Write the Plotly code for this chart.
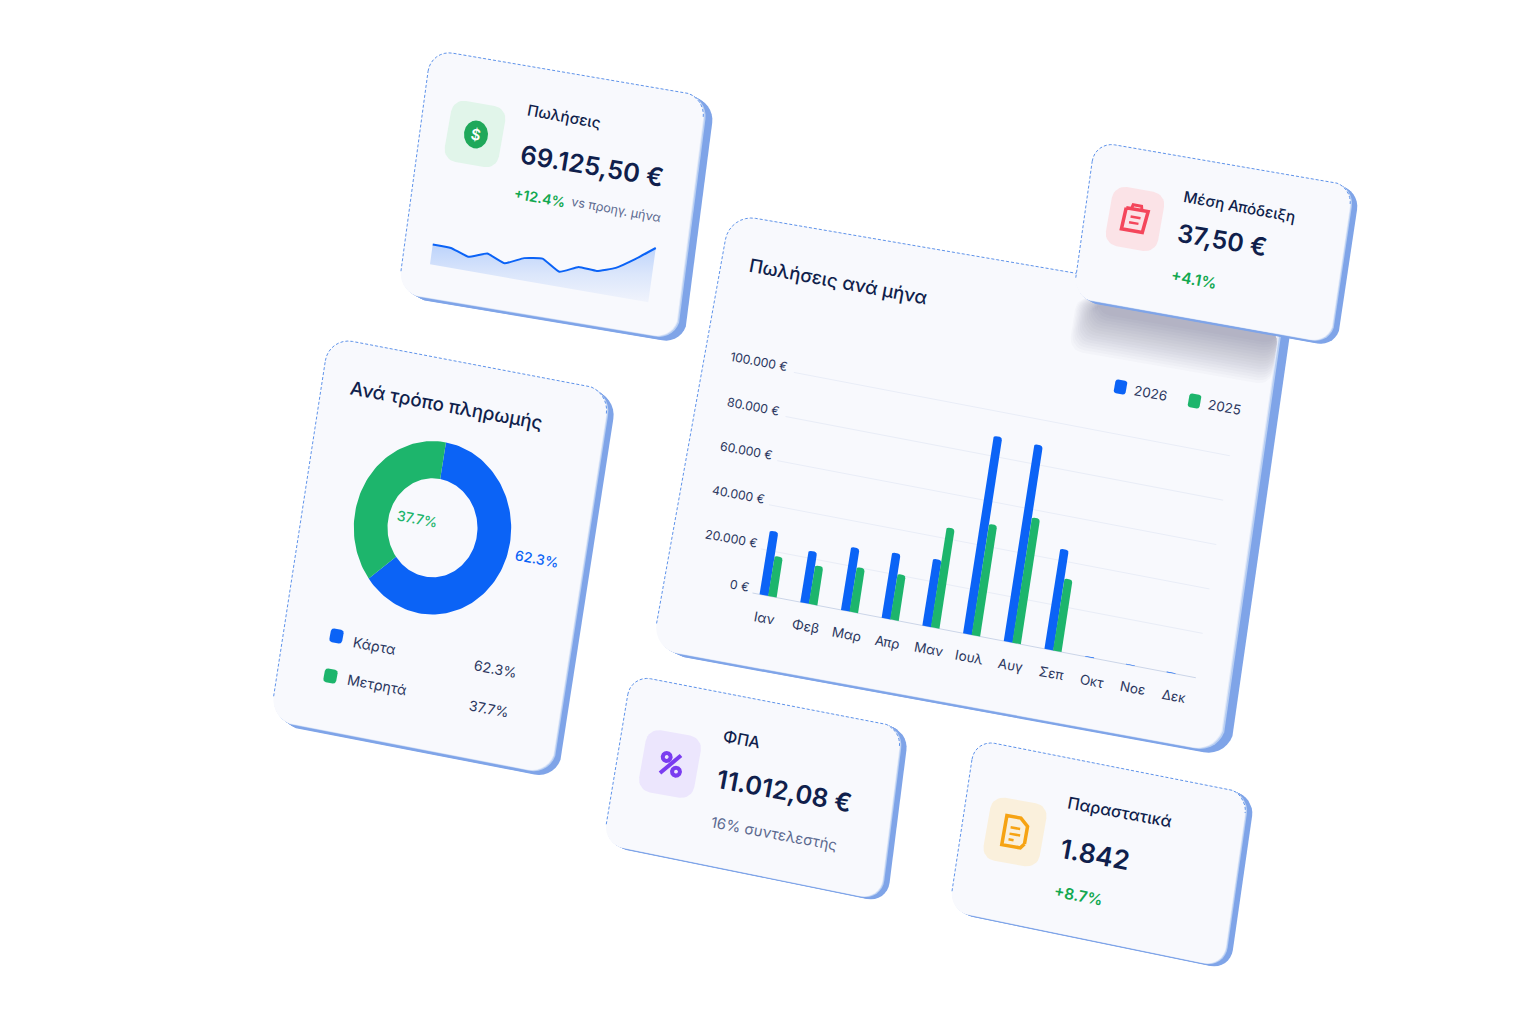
import math
import plotly.graph_objects as go

# chart data
MONTHS = ["Ιαν", "Φεβ", "Μαρ", "Απρ", "Μαν", "Ιουλ", "Αυγ", "Σεπ", "Οκτ", "Νοε", "Δεκ"]
SALES_2026 = [28800, 23300, 28400, 29500, 30200, 89000, 88700, 45200, 300, 300, 300]
SALES_2025 = [18100, 17400, 20100, 20500, 45000, 50100, 56500, 32500, 0, 0, 0]
Y_TICKS = [0, 20000, 40000, 60000, 80000, 100000]
Y_LABELS = ["0 €", "20.000 €", "40.000 €", "60.000 €", "80.000 €", "100.000 €"]
PAY_LABELS = ["Κάρτα", "Μετρητά"]
PAY_SHARES = [62.3, 37.7]
SPARK = [19.8, 19.5, 13.9, 20.2, 13.7, 22.0, 24.7, 14.7, 22.6, 21.9, 28.1, 40.3, 54.3]

BLUE = "#0b63f6"
GREEN = "#1db56c"
NAVY = "#101f4c"
INK = "#2b3760"
MUTED = "#5c6a90"
UP = "#12a850"
FACE = "#f8f9fd"
SIDE = "#7fa4e8"
FONT = "Inter"

fig = go.Figure()


def poly(xs, ys, color, opacity=1.0):
    fig.add_trace(go.Scatter(x=xs, y=ys, mode="lines", fill="toself", fillcolor=color,
                             line=dict(width=0), opacity=opacity, hoverinfo="skip", showlegend=False))


def stroke(xs, ys, color, width=1.0, dash=None, shape="linear", smoothing=None, opacity=1.0):
    fig.add_trace(go.Scatter(x=xs, y=ys, mode="lines", hoverinfo="skip", showlegend=False, opacity=opacity,
                             line=dict(color=color, width=width, dash=dash, shape=shape, smoothing=smoothing)))


def text(x, y, s, size, color=INK, angle=10.5, weight=400, anchor="center"):
    fig.add_annotation(x=x, y=y, text=s, showarrow=False, textangle=angle, xanchor=anchor, yanchor="middle",
                       font=dict(family=FONT, size=size, color=color, weight=weight))


def bilin(c, u, v):
    # c = top-left, top-right, bottom-right, bottom-left
    x = (1 - u) * (1 - v) * c[0][0] + u * (1 - v) * c[1][0] + u * v * c[2][0] + (1 - u) * v * c[3][0]
    y = (1 - u) * (1 - v) * c[0][1] + u * (1 - v) * c[1][1] + u * v * c[2][1] + (1 - u) * v * c[3][1]
    return x, y


def outline(c, r, box=(0, 0, 1, 1)):
    # rounded box in the unit square of the frame, starts bottom of left edge, runs clockwise
    w = math.dist(c[0], c[1])
    h = math.dist(c[0], c[3])
    ru, rv = r / w, r / h
    u0, v0, u1, v1 = box
    pts = []
    arcs = [(u0 + ru, v0 + rv, 180), (u1 - ru, v0 + rv, 270), (u1 - ru, v1 - rv, 0), (u0 + ru, v1 - rv, 90)]
    for cu, cv, start in arcs:
        for k in range(9):
            a = math.radians(start + k * 90 / 8)
            pts.append(bilin(c, cu + ru * math.cos(a), cv + rv * math.sin(a)))
    return pts


def card(c, r, dx, dy):
    pts = outline(c, r)
    xs = [p[0] for p in pts]
    ys = [p[1] for p in pts]
    for k in range(1, 9):
        t = k / 8
        poly([x + dx * t for x in xs] + [xs[0] + dx * t], [y + dy * t for y in ys] + [ys[0] + dy * t], SIDE)
    for t, col in [(0.25, "#b9cff2"), (0.1, "#e3eaf9")]:
        poly([x + dx * t for x in xs] + [xs[0] + dx * t], [y + dy * t for y in ys] + [ys[0] + dy * t], col)
    poly(xs + [xs[0]], ys + [ys[0]], FACE)
    # thin dashed rim on the top and left edges
    stroke(xs[:18], ys[:18], "#5f93ea", width=1, dash="3px,2px")
    stroke([xs[35], xs[0]], [ys[35], ys[0]], "#5f93ea", width=1, dash="3px,2px")


def tile(cx, cy, w, h, r, color, angle=10.0):
    a = math.radians(angle)
    ux, uy = math.cos(a) * w / 2, math.sin(a) * w / 2
    vx, vy = -math.sin(a) * h / 2, math.cos(a) * h / 2
    c = [(cx - ux - vx, cy - uy - vy), (cx + ux - vx, cy + uy - vy), (cx + ux + vx, cy + uy + vy), (cx - ux + vx, cy - uy + vy)]
    pts = outline(c, r)
    poly([p[0] for p in pts] + [pts[0][0]], [p[1] for p in pts] + [pts[0][1]], color)
    return c


def glyph(c, pts, color, width):
    xy = [bilin(c, u, v) for u, v in pts]
    stroke([p[0] for p in xy], [p[1] for p in xy], color, width=width)


def ellipse_ring(cx, cy, rx, ry, irx, iry, a0, a1, color):
    n = max(int(abs(a1 - a0) / 2), 2)
    ang = [math.radians(a0 + (a1 - a0) * k / n) for k in range(n + 1)]
    xs = [cx + rx * math.sin(t) for t in ang] + [cx + irx * math.sin(t) for t in reversed(ang)]
    ys = [cy - ry * math.cos(t) for t in ang] + [cy - iry * math.cos(t) for t in reversed(ang)]
    poly(xs + [xs[0]], ys + [ys[0]], color)


# value -> page mapping of the skewed bar chart
def chart_xy(i, val):
    s = i + 0.393
    return 752.5 + s * 40.7 + val * 34 / 1e5, 593 + s * 7.78 - val * 222 / 1e5


def bar(i, val, left, right, color):
    if val <= 0:
        return
    r = min(0.065, val / 1e5)
    rv = min(1300, val)
    pts = [chart_xy(i + left, 0)]
    for k in range(6):
        a = math.pi * (1 - k / 10)
        pts.append(chart_xy(i + left + r * (1 + math.cos(a)), val - rv + rv * math.sin(a)))
    for k in range(6):
        a = math.pi * (0.5 - k / 10)
        pts.append(chart_xy(i + right - r * (1 - math.cos(a)), val - rv + rv * math.sin(a)))
    pts.append(chart_xy(i + right, 0))
    poly([p[0] for p in pts] + [pts[0][0]], [p[1] for p in pts] + [pts[0][1]], color)


def spark_xy(i, h):
    s = i / (len(SPARK) - 1)
    return 430 + s * 218.3 + h * 0.138, 264.3 + s * 38 - h


# main chart card
CHART = [(730, 214), (1282, 308), (1219, 752), (652, 649)]
card(CHART, 26, 11, 5)
for k in range(1, 17):
    pts = outline(CHART, 14, (0.675 - k * 0.0025, 0.05, 1.0, 0.075 + k * 0.0062))
    poly([p[0] for p in pts] + [pts[0][0]], [p[1] for p in pts] + [pts[0][1]], "#3c4a78", 0.026)

text(838, 281, "Πωλήσεις ανά μήνα", 18.5, NAVY, weight=500)
for tick, label in zip(Y_TICKS, Y_LABELS):
    x0, y0 = chart_xy(-0.393 + 0.18 * tick / 1e5, tick)
    x1, y1 = chart_xy(10.5, tick)
    stroke([x0, x1], [y0, y1], "#cbd5e8" if tick == 0 else "#e9edf7", width=1)
    w = 6.4 * len(label)
    nudge = max(0, 3.5 * (1 - tick / 8e4))
    text(x0 - 7 + nudge - w / 2 * 0.98, y0 - 5.5 - w / 2 * 0.19, label, 12.2, INK)
for i, m in enumerate(MONTHS):
    x, y = chart_xy(i, -10000)
    text(x - 1 + 0.3 * i, y, m, 13.5, INK)
    bar(i, SALES_2026[i], -0.22, 0.0, BLUE)
for i in range(len(MONTHS)):
    bar(i, SALES_2025[i], -0.01, 0.2, GREEN)
tile(1120.5, 387, 12, 14, 2.5, BLUE)
text(1150, 393, "2026", 13.5, INK)
tile(1194.5, 401, 12, 14, 2.5, GREEN)
text(1224, 407, "2025", 13.5, INK)

# sales card
card([(431, 49.5), (706, 96), (675, 339), (398, 293)], 22, 9, 5)
tile(475, 134, 55, 62, 13, "#e1f5ea")
ellipse_ring(476, 134.5, 12, 14, 0, 0, 0, 360, "#1fa85a")
text(476, 134, "$", 15, "#ffffff", weight=600)
text(564, 116, "Πωλήσεις", 15.3, NAVY, weight=500)
text(592, 165, "69.125,50 €", 25.5, NAVY, angle=9.5, weight=600)
text(540, 197, "+12.4%", 14, UP, weight=600)
text(616, 209, "vs προηγ. μήνα", 12.5, MUTED)
line_pts = [spark_xy(i, h) for i, h in enumerate(SPARK)]
fx = [p[0] for p in line_pts] + [spark_xy(len(SPARK) - 1, 0)[0], spark_xy(0, 0)[0], line_pts[0][0]]
fy = [p[1] for p in line_pts] + [spark_xy(len(SPARK) - 1, 0)[1], spark_xy(0, 0)[1], line_pts[0][1]]
fig.add_trace(go.Scatter(x=fx, y=fy, mode="lines", fill="toself", line=dict(width=0), hoverinfo="skip", showlegend=False,
                         fillgradient=dict(type="vertical", start=245, stop=303,
                                           colorscale=[[0, "#bcd3fb"], [0.5, "#dbe6fb"], [1, "#f1f4fc"]])))
stroke([p[0] for p in line_pts], [p[1] for p in line_pts], BLUE, width=2, shape="spline", smoothing=0.35)

# payment donut card
card([(329, 337), (610, 390), (551, 774), (270, 720)], 24, 7, 5)
text(446, 405, "Ανά τρόπο πληρωμής", 18.7, NAVY, weight=500)
start = 9.85
colors = [BLUE, GREEN]
for share, col in zip(PAY_SHARES, colors):
    end = start + share * 3.6
    ellipse_ring(432.5, 527.8, 78.7, 86.7, 45, 49.5, start, end, col)
    start = end
text(417, 518, "37.7%", 14, GREEN, weight=500)
text(537, 558, "62.3%", 14, BLUE, weight=500)
rows = [(336.5, 636, 374, 645, 495, 668), (330.5, 676, 377, 684, 489, 708)]
for (sx, sy, lx, ly, vx, vy), label, share, col in zip(rows, PAY_LABELS, PAY_SHARES, colors):
    tile(sx, sy, 13, 14, 3, col)
    text(lx, ly, label, 14.2, INK)
    text(vx, vy, f"{share}%", 14, INK)

# vat card
card([(631, 675), (902, 727), (880, 900), (603, 844)], 20, 7, 3)
tile(670, 764, 56, 63, 13, "#ece6fd")
stroke([660, 681], [773, 755.5], "#7a3cf0", width=4)
ellipse_ring(666.7, 757, 6, 6, 2, 2, 0, 360, "#7a3cf0")
ellipse_ring(676, 771.7, 6, 6, 2, 2, 0, 360, "#7a3cf0")
text(741, 739, "ΦΠΑ", 16, NAVY, weight=500)
text(784, 790, "11.012,08 €", 25.5, NAVY, angle=10.5, weight=600)
text(774, 834, "16% συντελεστής", 14.9, MUTED)

# documents card
card([(975, 739.5), (1248, 793), (1223, 967), (949, 911)], 20, 7, 3)
doc = tile(1015, 832, 57, 64, 13, "#faf0dc")
glyph(doc, [(0.7, 0.66), (0.7, 0.38), (0.56, 0.27), (0.31, 0.27), (0.31, 0.73), (0.64, 0.73), (0.7, 0.66)], "#f6a313", 3.5)
glyph(doc, [(0.41, 0.44), (0.58, 0.44)], "#f6a313", 2.5)
glyph(doc, [(0.41, 0.54), (0.6, 0.54)], "#f6a313", 2.5)
glyph(doc, [(0.41, 0.63), (0.5, 0.63)], "#f6a313", 2.5)
text(1120, 812, "Παραστατικά", 16.3, NAVY, weight=500)
text(1095, 854, "1.842", 26.5, NAVY, angle=10.5, weight=600)
text(1078, 895, "+8.7%", 15.5, UP, weight=600)

# average receipt card, sits on top of the chart card
card([(1095, 141.5), (1353, 185.5), (1330, 343), (1073, 297.5)], 20, 7, 4)
clip = tile(1135, 219, 53, 60, 13, "#fbe3e7")
glyph(clip, [(0.3, 0.34), (0.72, 0.34), (0.68, 0.7), (0.28, 0.7), (0.3, 0.34)], "#f4465b", 3.5)
glyph(clip, [(0.4, 0.34), (0.42, 0.27), (0.58, 0.27), (0.6, 0.34)], "#f4465b", 3)
glyph(clip, [(0.41, 0.47), (0.6, 0.47)], "#f4465b", 2.5)
glyph(clip, [(0.4, 0.57), (0.58, 0.57)], "#f4465b", 2.5)
text(1239, 206, "Μέση Απόδειξη", 15.3, NAVY, weight=500)
text(1222, 240, "37,50 €", 25, NAVY, angle=9.5, weight=600)
text(1194, 279, "+4.1%", 15.5, UP, weight=600)

fig.update_layout(
    width=1536,
    height=1024,
    margin=dict(l=0, r=0, t=0, b=0),
    paper_bgcolor="#ffffff",
    plot_bgcolor="#ffffff",
    showlegend=False,
    xaxis=dict(range=[0, 1536], visible=False, fixedrange=True),
    yaxis=dict(range=[1024, 0], visible=False, fixedrange=True),
)
fig.write_html("out.html", config={"displayModeBar": False}, post_script="document.body.style.margin='0';")
